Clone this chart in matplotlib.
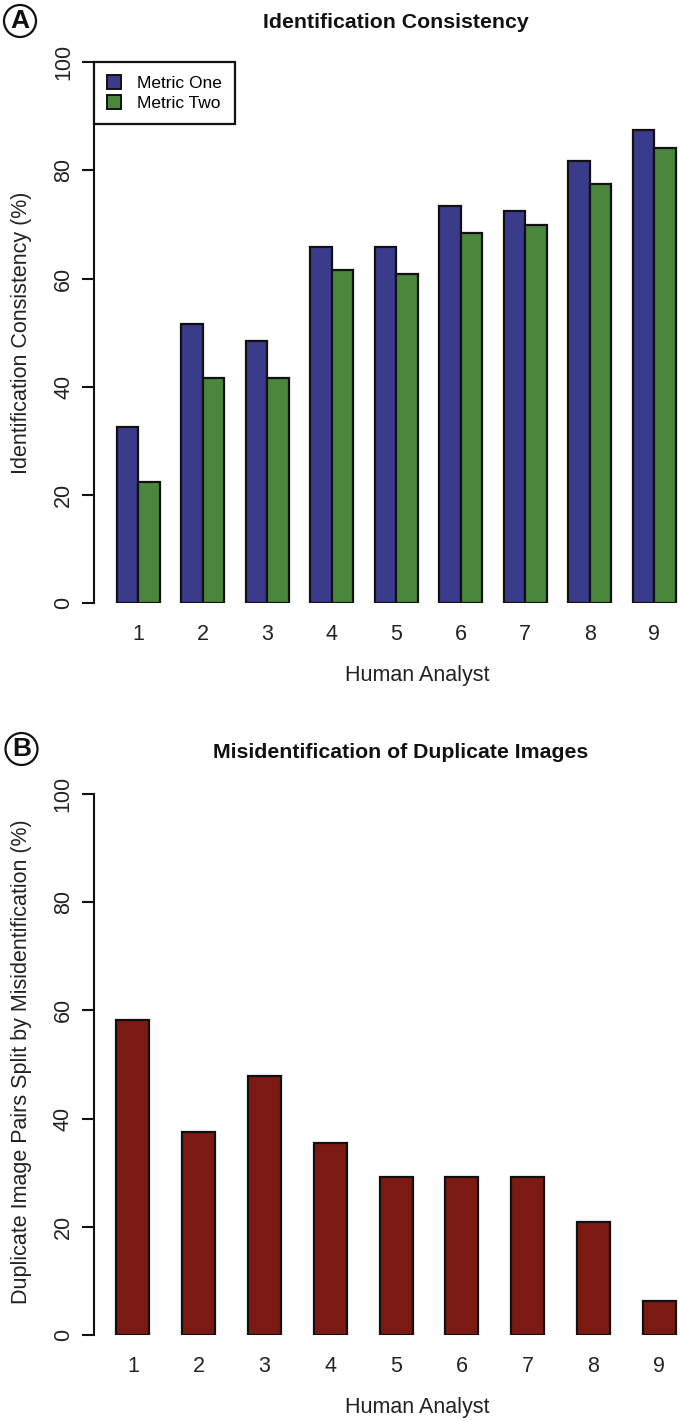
import matplotlib
matplotlib.use("Agg")
import matplotlib.pyplot as plt
from matplotlib.patches import Ellipse, Patch

plt.rcParams['font.family'] = ['Liberation Sans', 'DejaVu Sans']

# ---------------- data ----------------
analysts = ['1', '2', '3', '4', '5', '6', '7', '8', '9']
metric_one = [32.5, 51.6, 48.4, 65.8, 65.8, 73.4, 72.6, 81.7, 87.5]
metric_two = [22.5, 41.6, 41.6, 61.6, 60.8, 68.4, 70.0, 77.5, 84.2]
misident = [58.3, 37.5, 47.9, 35.4, 29.2, 29.2, 29.2, 20.8, 6.25]
yticks = [0, 20, 40, 60, 80, 100]
legend_labels = ['Metric One', 'Metric Two']

c_blue = '#3b3b8c'
c_green = '#4a873c'
c_red = '#7a1a13'

W, H = 680, 1422
fig = plt.figure(figsize=(W / 100, H / 100), dpi=100)


def fx(px):
    return px / W


def fy(py):
    return 1 - py / H


FS = 15.5

# ---------------- top panel ----------------
t_left, t_unit, t_x0 = 94.3, 21.5, -0.04
t_top, t_bot = 62.3, 603.3
ax1 = fig.add_axes([fx(t_left), fy(t_bot), fx(W - t_left), (t_bot - t_top) / H])
ax1.set_xlim(t_x0, t_x0 + (W - t_left) / t_unit)
ax1.set_ylim(0, 100)
n = len(analysts)
xb = [3 * i + 1.5 for i in range(n)]
xg = [3 * i + 2.5 for i in range(n)]
ax1.bar(xb, metric_one, width=1.0, color=c_blue, edgecolor='#111111', linewidth=1.6)
ax1.bar(xg, metric_two, width=1.0, color=c_green, edgecolor='#111111', linewidth=1.6)
ax1.set_xticks([3 * i + 2 for i in range(n)])
ax1.set_xticklabels(analysts)

leg = ax1.legend([Patch(facecolor=c_blue, edgecolor='#111111', linewidth=1.4),
                  Patch(facecolor=c_green, edgecolor='#111111', linewidth=1.4)],
                 legend_labels, loc='upper left', bbox_to_anchor=(0, 1),
                 borderaxespad=0, fancybox=False, framealpha=1, edgecolor='#111111',
                 fontsize=12.5, handlelength=0.8, handleheight=0.8, handletextpad=0.9,
                 labelspacing=0.25, borderpad=0.75)
leg.get_frame().set_linewidth(1.6)

# ---------------- bottom panel ----------------
b_left, b_unit, b_x0 = 94.1, 32.9, 0.32
b_top, b_bot = 794.0, 1335.0
ax2 = fig.add_axes([fx(b_left), fy(b_bot), fx(W - b_left), (b_bot - b_top) / H])
ax2.set_xlim(b_x0, b_x0 + (W - b_left) / b_unit)
ax2.set_ylim(0, 100)
xr = [2 * i + 1.5 for i in range(n)]
ax2.bar(xr, misident, width=1.0, color=c_red, edgecolor='#111111', linewidth=1.6)
ax2.set_xticks(xr)
ax2.set_xticklabels(analysts)

for ax in (ax1, ax2):
    for s in ('top', 'right', 'bottom'):
        ax.spines[s].set_visible(False)
    ax.spines['left'].set_linewidth(1.5)
    ax.spines['left'].set_color('#111111')
    ax.set_yticks(yticks)
    ax.set_yticklabels([str(v) for v in yticks], rotation=90, va='center')
    ax.tick_params(axis='y', length=8.6, width=1.5, color='#111111', labelsize=FS, pad=6,
                   labelcolor='#222222')
    ax.tick_params(axis='x', length=0, labelsize=FS, pad=15, labelcolor='#222222')
    ax.spines['left'].set_bounds(0, 100)

# ---------------- texts ----------------
fig.text(fx(396), fy(22), 'Identification Consistency', fontsize=15.3, fontweight='bold',
         ha='center', va='center', color='#111111')
fig.text(fx(401), fy(752), 'Misidentification of Duplicate Images', fontsize=15.3,
         fontweight='bold', ha='center', va='center', color='#111111')
fig.text(fx(417), fy(676), 'Human Analyst', fontsize=FS, ha='center', va='center',
         color='#222222')
fig.text(fx(417), fy(1407), 'Human Analyst', fontsize=FS, ha='center', va='center',
         color='#222222')
fig.text(fx(22), fy(333), 'Identification Consistency (%)', fontsize=FS, rotation=90,
         ha='center', va='center', color='#222222')
fig.text(fx(22), fy(1062), 'Duplicate Image Pairs Split by Misidentification (%)',
         fontsize=FS, rotation=90, ha='center', va='center', color='#222222')

for lab, cx, cy in (('A', 20, 21), ('B', 21.5, 749)):
    fig.add_artist(Ellipse((fx(cx), fy(cy)), 32 / W, 32 / H, transform=fig.transFigure,
                           facecolor='white', edgecolor='#111111', linewidth=1.6))
    fig.text(fx(cx), fy(cy + 0.5), lab, fontsize=19, fontweight='bold', ha='center',
             va='center', color='#111111')

fig.savefig('out.png', dpi=100)
